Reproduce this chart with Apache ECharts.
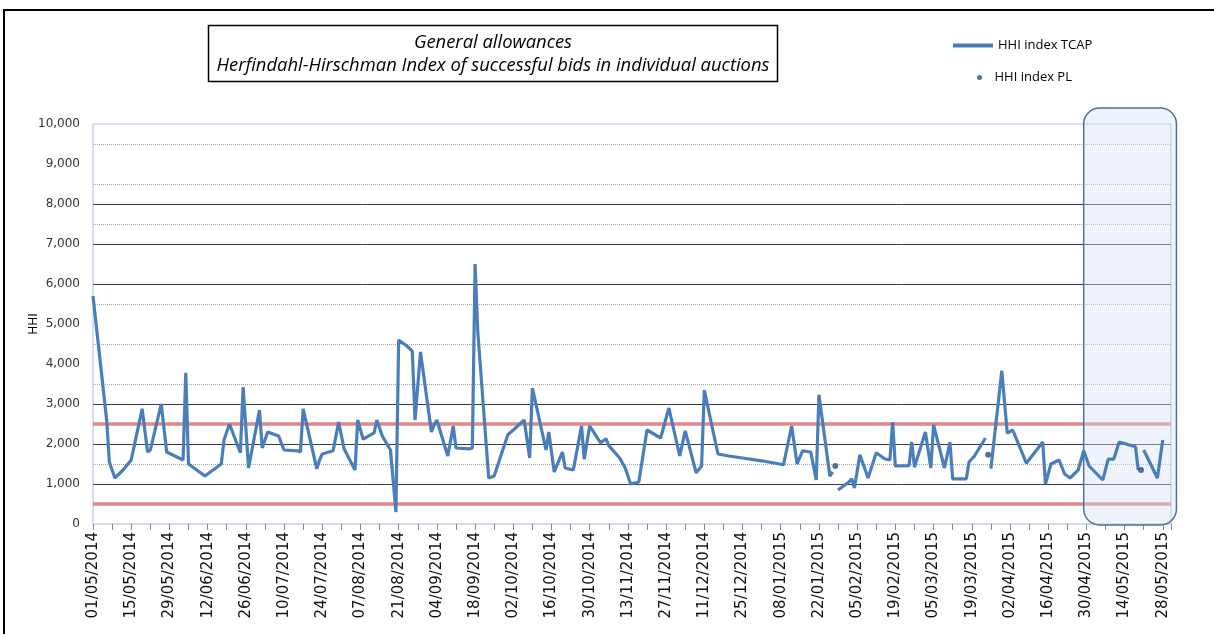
<!DOCTYPE html>
<html>
<head>
<meta charset="utf-8">
<title>HHI index of successful bids</title>
<script src="https://cdn.jsdelivr.net/npm/echarts@6/dist/echarts.min.js"></script>
<style>
html, body { margin: 0; padding: 0; background: #fff; }
#chart { width: 1214px; height: 634px; }
</style>
</head>
<body>
<div id="chart"></div>
<script>
// TCAP auction days and HHI (null = PL auction day, no TCAP)
const tcapDates = [
	"2014-05-01", "2014-05-06", "2014-05-07", "2014-05-09", "2014-05-12", "2014-05-15", "2014-05-19", "2014-05-21", "2014-05-22", "2014-05-26", "2014-05-28",
	"2014-06-03", "2014-06-04", "2014-06-05", "2014-06-11", "2014-06-17", "2014-06-18", "2014-06-20", "2014-06-24", "2014-06-25", "2014-06-27",
	"2014-07-01", "2014-07-02", "2014-07-04", "2014-07-08", "2014-07-10", "2014-07-15", "2014-07-16", "2014-07-17", "2014-07-22", "2014-07-23", "2014-07-24", "2014-07-28", "2014-07-30",
	"2014-08-01", "2014-08-05", "2014-08-06", "2014-08-08", "2014-08-12", "2014-08-13", "2014-08-15", "2014-08-18", "2014-08-20", "2014-08-21", "2014-08-24", "2014-08-26", "2014-08-27", "2014-08-29",
	"2014-09-02", "2014-09-03", "2014-09-04", "2014-09-08", "2014-09-10", "2014-09-11", "2014-09-16", "2014-09-17", "2014-09-18", "2014-09-19", "2014-09-23", "2014-09-25", "2014-09-30",
	"2014-10-02", "2014-10-06", "2014-10-08", "2014-10-09", "2014-10-14", "2014-10-15", "2014-10-17", "2014-10-20", "2014-10-21", "2014-10-24", "2014-10-27", "2014-10-28", "2014-10-30",
	"2014-11-03", "2014-11-05", "2014-11-06", "2014-11-10", "2014-11-12", "2014-11-14", "2014-11-17", "2014-11-20", "2014-11-25", "2014-11-28",
	"2014-12-02", "2014-12-04", "2014-12-08", "2014-12-10", "2014-12-11", "2014-12-13", "2014-12-16", "2014-12-20", "2014-12-25",
	"2015-01-01", "2015-01-09", "2015-01-12", "2015-01-14", "2015-01-16", "2015-01-19", "2015-01-21", "2015-01-22", "2015-01-26", "2015-01-27", "2015-01-28", "2015-01-29",
	"2015-02-02", "2015-02-03", "2015-02-04", "2015-02-06", "2015-02-09", "2015-02-12", "2015-02-15", "2015-02-17", "2015-02-18", "2015-02-19", "2015-02-24", "2015-02-25", "2015-02-26",
	"2015-03-02", "2015-03-04", "2015-03-05", "2015-03-09", "2015-03-11", "2015-03-12", "2015-03-17", "2015-03-18", "2015-03-20", "2015-03-24", "2015-03-25", "2015-03-26", "2015-03-30",
	"2015-04-01", "2015-04-03", "2015-04-08", "2015-04-14", "2015-04-15", "2015-04-17", "2015-04-20", "2015-04-22", "2015-04-24", "2015-04-27", "2015-04-29",
	"2015-05-01", "2015-05-06", "2015-05-08", "2015-05-10", "2015-05-12", "2015-05-18", "2015-05-19", "2015-05-20", "2015-05-21", "2015-05-26", "2015-05-28"
];
const tcapValues = [
	5700, 2600, 1550, 1150, 1350, 1600, 2880, 1800, 1850, 3000, 1800,
	1600, 3780, 1500, 1200, 1500, 2100, 2500, 1780, 3420, 1400,
	2850, 1900, 2300, 2200, 1850, 1830, 1800, 2880, 1380, 1600, 1750, 1830, 2550,
	1880, 1350, 2600, 2120, 2280, 2600, 2200, 1850, 300, 4600, 4450, 4320, 2600, 4300,
	2300, 2480, 2600, 1700, 2450, 1900, 1880, 1900, 6500, 4800, 1150, 1200, 2230,
	2350, 2600, 1650, 3400, 1850, 2300, 1300, 1800, 1400, 1350, 2450, 1620, 2450,
	2030, 2130, 1960, 1650, 1400, 1000, 1050, 2350, 2150, 2900,
	1700, 2330, 1280, 1450, 3350, 2700, 1750, 1700, 1650,
	1580, 1480, 2450, 1500, 1830, 1800, 1100, 3230, 1200, 1300, null, 850,
	1050, 1130, 900, 1730, 1150, 1780, 1630, 1600, 2550, 1450, 1460, 2050, 1420,
	2300, 1400, 2480, 1400, 2050, 1130, 1130, 1550, 1700, 2150, null, 1380, 3830,
	2270, 2350, 1520, 2050, 1000, 1500, 1600, 1250, 1150, 1350, 1830,
	1450, 1100, 1620, 1620, 2050, 1930, 1350, null, 1850, 1150, 2100
];
const plDates = ["2015-01-28", "2015-03-25", "2015-05-20"];
const plValues = [1450, 1730, 1350];

const titleLines = ["General allowances", "Herfindahl-Hirschman Index of successful bids in individual auctions"];
const solidLevels = [1000, 2000, 3000, 6000, 7000, 8000];
const dottedLevels = [1500, 3500, 4500, 5500, 7500, 8500, 9500];
const thresholdLevels = [500, 2500];

const axisStart = "2014-05-01";
const highlightFrom = "2015-04-29";
const highlightTo = "2015-06-02";

function pad(n) {
	return n < 10 ? "0" + n : "" + n;
}
function utc(iso) {
	const p = iso.split("-").map(Number);
	return Date.UTC(p[0], p[1] - 1, p[2]);
}
function dayIndex(iso) {
	return Math.round((utc(iso) - utc(axisStart)) / 86400000);
}
function dayLabel(i) {
	const t = new Date(utc(axisStart) + i * 86400000);
	return pad(t.getUTCDate()) + "/" + pad(t.getUTCMonth() + 1) + "/" + t.getUTCFullYear();
}

const chartDom = document.getElementById("chart");
const myChart = echarts.init(chartDom);
let option;

const gridLines = []
	.concat(solidLevels.map(v => ({yAxis: v, lineStyle: {color: "#3c3c3c", width: 1, type: "solid"}})))
	.concat(dottedLevels.map(v => ({yAxis: v, lineStyle: {color: "#a8a8a8", width: 1, type: "dotted"}})))
	.concat(thresholdLevels.map(v => ({yAxis: v, lineStyle: {color: "rgba(214,84,88,0.7)", width: 3.5, type: "solid"}})));

option = {
	animation: false,
	backgroundColor: "#fff",
	textStyle: {fontFamily: "DejaVu Sans"},
	grid: {
		left: 93,
		right: 43,
		top: 124,
		bottom: 110,
		show: true,
		borderColor: "#a9c0e2",
		borderWidth: 1
	},
	legend: [{
		orient: "vertical",
		left: 948,
		top: 34,
		itemWidth: 40,
		itemHeight: 4,
		data: [{name: "HHI index TCAP", icon: "rect"}],
		textStyle: {fontFamily: "Open Sans", fontSize: 13, color: "#000"}
	}, {
		orient: "vertical",
		left: 972,
		top: 66,
		itemWidth: 20,
		itemHeight: 5,
		data: [{name: "HHI index PL", icon: "circle"}],
		textStyle: {fontFamily: "Open Sans", fontSize: 13, color: "#000"}
	}],
	xAxis: {
		type: "value",
		min: 0,
		max: dayIndex(highlightTo) - 2,
		interval: 14,
		axisLine: {show: true, lineStyle: {color: "#d6daee", width: 2}},
		axisTick: {show: true, length: 6, lineStyle: {color: "#8a8a8a"}},
		minorTick: {show: true, splitNumber: 2, length: 6, lineStyle: {color: "#8a8a8a"}},
		splitLine: {show: false},
		axisLabel: {
			rotate: 90,
			margin: 8,
			fontSize: 15,
			color: "#111",
			showMaxLabel: false,
			formatter: v => dayLabel(v)
		}
	},
	yAxis: {
		type: "value",
		min: 0,
		max: 10000,
		interval: 1000,
		name: "HHI",
		nameLocation: "middle",
		nameGap: 53,
		nameMoveOverlap: false,
		nameTextStyle: {color: "#000", fontSize: 12},
		axisLine: {show: false},
		axisTick: {show: false},
		splitLine: {show: false},
		axisLabel: {
			fontSize: 12,
			color: "#333",
			margin: 13,
			formatter: v => String(v).replace(/\B(?=(\d{3})+(?!\d))/g, ",")
		}
	},
	series: [{
		name: "levels",
		type: "line",
		data: [],
		silent: true,
		z: 1,
		markLine: {
			z: 1,
			silent: true,
			symbol: "none",
			animation: false,
			label: {show: false},
			data: gridLines
		}
	}, {
		name: "HHI index TCAP",
		type: "line",
		z: 3,
		data: tcapDates.map((d, i) => [dayIndex(d), tcapValues[i]]),
		showSymbol: false,
		connectNulls: false,
		lineStyle: {color: "#4a7ebb", width: 3.2},
		itemStyle: {color: "#4a7ebb"}
	}, {
		name: "HHI index PL",
		type: "scatter",
		z: 4,
		symbolSize: 6,
		data: plDates.map((d, i) => [dayIndex(d), plValues[i]]),
		itemStyle: {color: "#2c4d75"}
	}]
};

option && myChart.setOption(option);

// decorations: page frame, title box, and the rounded box round the last month
const p0 = myChart.convertToPixel({gridIndex: 0}, [dayIndex(highlightFrom), 10400]);
const p1 = myChart.convertToPixel({gridIndex: 0}, [dayIndex(highlightTo), 0]);

myChart.setOption({
	graphic: [{
		type: "rect",
		silent: true,
		z: 0,
		shape: {x: 4, y: 10, width: 1300, height: 720},
		style: {fill: "none", stroke: "#000", lineWidth: 2}
	}, {
		type: "rect",
		silent: true,
		z: 5,
		shape: {x: 208.5, y: 25.5, width: 569, height: 56},
		style: {fill: "#fff", stroke: "#000", lineWidth: 1.5}
	}, {
		type: "text",
		silent: true,
		z: 6,
		x: 493,
		y: 43,
		style: {text: titleLines[0], font: "italic 18.4px 'Open Sans'", fill: "#000", align: "center", verticalAlign: "middle"}
	}, {
		type: "text",
		silent: true,
		z: 6,
		x: 493,
		y: 66,
		style: {text: titleLines[1], font: "italic 18.4px 'Open Sans'", fill: "#000", align: "center", verticalAlign: "middle"}
	}, {
		type: "rect",
		silent: true,
		z: 2,
		shape: {x: p0[0], y: p0[1], width: p1[0] - p0[0], height: p1[1] - p0[1] + 1, r: 16},
		style: {fill: "rgba(214,226,244,0.4)", stroke: "#4d6e9e", lineWidth: 1.5}
	}]
});
</script>
</body>
</html>
